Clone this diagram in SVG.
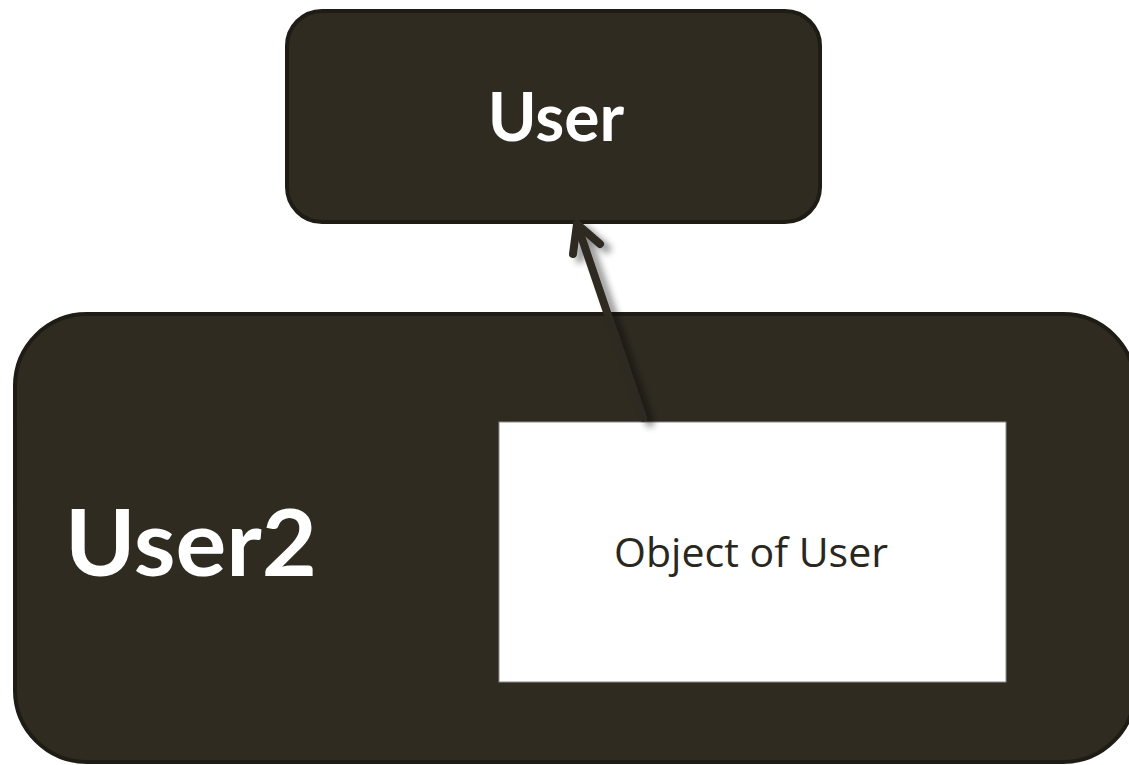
<svg xmlns="http://www.w3.org/2000/svg" width="1129" height="765" viewBox="0 0 1129 765">
  <style>
    .box { fill: #2f2b21; stroke: #1e1c14; stroke-width: 4; }
    .inner { fill: #ffffff; stroke: #8a8a8a; stroke-width: 1; }
    .title { font-family: Lato, "Liberation Sans", sans-serif; font-weight: bold; fill: #ffffff; }
    .label { font-family: "Open Sans", "Liberation Sans", sans-serif; fill: #2a2720; }
    .conn { fill: none; stroke: #2f2b21; stroke-width: 8; stroke-linecap: round; stroke-linejoin: round; }
  </style>
  <defs>
    <filter id="shadow" x="-50%" y="-20%" width="200%" height="140%">
      <feGaussianBlur in="SourceAlpha" stdDeviation="3.5"/>
      <feOffset dx="7" dy="5" result="b"/>
      <feComponentTransfer><feFuncA type="linear" slope="0.45"/></feComponentTransfer>
      <feMerge><feMergeNode/><feMergeNode in="SourceGraphic"/></feMerge>
    </filter>
  </defs>
  <rect width="1129" height="765" fill="#ffffff"/>

  <g id="user">
    <rect class="box" x="287" y="11" width="533" height="211" rx="35"/>
    <text class="title" x="556" y="141" font-size="66" text-anchor="middle">User</text>
  </g>

  <g id="user2">
    <rect class="box" x="15" y="314" width="1120" height="448" rx="72"/>
    <text class="title" x="191" y="576" font-size="92" text-anchor="middle" textLength="252" lengthAdjust="spacingAndGlyphs">User2</text>
  </g>

  <g id="object-of-user">
    <rect class="inner" x="499" y="422" width="507" height="260"/>
    <text class="label" x="751" y="567" font-size="40" text-anchor="middle" textLength="274" lengthAdjust="spacingAndGlyphs">Object of User</text>
  </g>

  <g id="connectors" filter="url(#shadow)">
    <path class="conn" d="M643 418 L577 224"/>
    <path class="conn" d="M573 254 L577 224 L600 244"/>
  </g>
</svg>
